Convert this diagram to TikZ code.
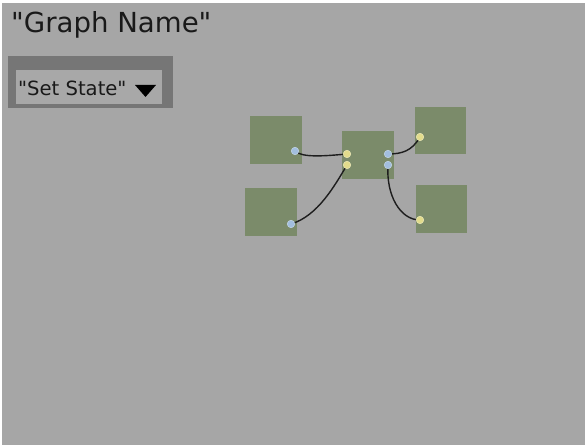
\documentclass[tikz,border=0pt]{standalone}
\usepackage{fontspec}
\setmainfont[Ligatures=TeXOff]{DejaVu Sans}
\definecolor{bggray}{RGB}{166,166,166}
\definecolor{panel}{RGB}{118,118,118}
\definecolor{innerg}{RGB}{168,168,168}
\definecolor{nodegreen}{RGB}{123,139,106}
\definecolor{portblue}{RGB}{162,190,222}
\definecolor{portyellow}{RGB}{226,220,140}
\definecolor{wire}{RGB}{30,30,30}
\tikzset{
  gbox/.style={fill=nodegreen, draw=none, inner sep=0pt, minimum width=52pt, minimum height=48pt},
  inport/.style={circle, fill=portyellow, draw=portyellow!60!white, line width=0.5pt, inner sep=0pt, minimum size=7.5pt},
  outport/.style={circle, fill=portblue, draw=portblue!60!white, line width=0.5pt, inner sep=0pt, minimum size=7.5pt},
  link/.style={draw=wire, line width=1.4pt, line cap=round},
}
\begin{document}
\begin{tikzpicture}[x=1pt, y=-1pt]
\useasboundingbox (0,0) rectangle (587,446);
\fill[white] (0,0) rectangle (587,446);
\fill[bggray] (2,3) rectangle (585,445);
% title
\node[anchor=base west, inner sep=0pt, font=\fontsize{27.6}{30}\selectfont, text=black!90] (title) at (11,33) {"Graph Name"};
% state selector
\fill[panel] (8,56) rectangle (173,108);
\fill[innerg] (16,70) rectangle (162,104);
\node[anchor=base west, inner sep=0pt, font=\fontsize{19.6}{22}\selectfont, text=black!90] (state) at (18,96) {"Set State"};
\fill[black] (135,85) -- (156,85) -- (145.5,97) -- cycle;
% boxes
\node[gbox] (A) at (276,140) {};
\node[gbox] (C) at (368,155) {};
\node[gbox] (B) at (271,212) {};
\node[gbox, minimum width=51pt, minimum height=47pt] (TR) at (440.5,130.5) {};
\node[gbox, minimum width=51pt] (BR) at (441.5,209) {};
% connectors
\coordinate (pA) at (295,151);
\coordinate (pC1) at (347,154);
\coordinate (pC2) at (347,165);
\coordinate (pC3) at (388,154);
\coordinate (pC4) at (388,165);
\coordinate (pTR) at (420,137);
\coordinate (pB) at (291,224);
\coordinate (pBR) at (420,220);
\draw[link] (pA) .. controls (302,158) and (325,156) .. (pC1);
\draw[link] (pB) .. controls (318,216) and (335,185) .. (pC2);
\draw[link] (pC3) .. controls (402,154) and (412,151) .. (pTR);
\draw[link] (pC4) .. controls (386,195) and (400,220) .. (pBR);
% ports
\node[outport] (oA) at (pA) {};
\node[inport] (iC1) at (pC1) {};
\node[inport] (iC2) at (pC2) {};
\node[outport] (oC1) at (pC3) {};
\node[outport] (oC2) at (pC4) {};
\node[inport] (iTR) at (pTR) {};
\node[outport] (oB) at (pB) {};
\node[inport] (iBR) at (pBR) {};
\end{tikzpicture}
\end{document}
